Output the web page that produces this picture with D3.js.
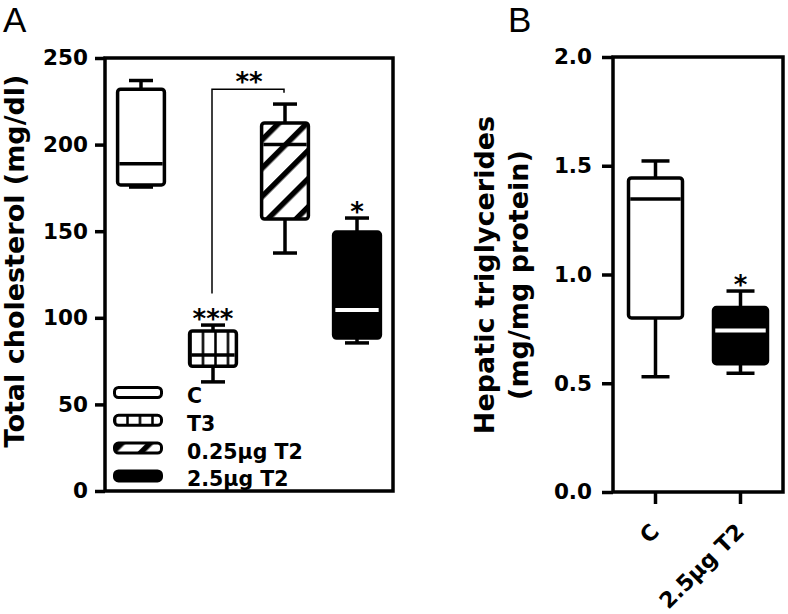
<!DOCTYPE html>
<html lang="en">
<head>
<meta charset="UTF-8">
<title>Cholesterol and triglycerides</title>
<script src="https://d3js.org/d3.v7.min.js"></script>
<style>
  body { margin: 0; background: #fff; }
  text { font-family: "DejaVu Sans", sans-serif; fill: #000; }
  .bold { font-weight: bold; }
</style>
</head>
<body>
<div id="chart"></div>
<script>
// ---- data, panel A (total cholesterol, mg/dl) ----
const groupsA = ["C", "T3", "0.25µg T2", "2.5µg T2"];
const cholMin = [175.5, 63, 137.4, 85.5];
const cholQ1  = [176.7, 72, 157, 88.3];
const cholMed = [189, 78.5, 200, 104.5];
const cholQ3  = [232, 92.4, 212.5, 149.5];
const cholMax = [237, 95.8, 223.4, 157.6];
const cholStars = ["", "***", "", "*"];
const cholTicks = [0, 50, 100, 150, 200, 250];
const bracketA = {from: "T3", to: "0.25µg T2", top: 232, low: 114, end: 230, label: "**"};

// ---- data, panel B (hepatic triglycerides, mg/mg protein) ----
const groupsB = ["C", "2.5µg T2"];
const tgMin = [0.53, 0.546];
const tgQ1  = [0.80, 0.59];
const tgMed = [1.347, 0.742];
const tgQ3  = [1.444, 0.848];
const tgMax = [1.522, 0.924];
const tgStars = ["", "*"];
const tgTicks = [0, 0.5, 1.0, 1.5, 2.0];

// fill per group
const fillOf = {"C": "white", "T3": "url(#vlines)", "0.25µg T2": "url(#hatch)", "2.5µg T2": "black"};

const W = 788, H = 614;
const sw = 3.5;

const svg = d3.select("#chart").append("svg").attr("width", W).attr("height", H);

/********************
 * patterns
 ********************/
const defs = svg.append("defs");
const hatch = defs.append("pattern").attr("id", "hatch")
  .attr("patternUnits", "userSpaceOnUse").attr("width", 20).attr("height", 20)
  .attr("patternTransform", "rotate(45)");
hatch.append("rect").attr("width", 20).attr("height", 20).attr("fill", "white");
hatch.append("rect").attr("width", 5.5).attr("height", 20).attr("fill", "black");

const vl = defs.append("pattern").attr("id", "vlines")
  .attr("patternUnits", "userSpaceOnUse").attr("x", -3.75).attr("width", 12.5).attr("height", 10);
vl.append("rect").attr("width", 12.5).attr("height", 10).attr("fill", "white");
vl.append("line").attr("x1", 6.25).attr("x2", 6.25).attr("y1", 0).attr("y2", 10)
  .attr("stroke", "black").attr("stroke-width", 2.5);

/********************
 * helpers
 ********************/
function frame(x, y) {
  const [x0, x1] = x.range(), [y0, y1] = y.range();
  svg.append("rect")
    .attr("x", x0).attr("y", y1).attr("width", x1 - x0).attr("height", y0 - y1)
    .attr("fill", "none").attr("stroke", "black").attr("stroke-width", sw);
}

function styleAxis(g) {
  g.select(".domain").remove();
  g.selectAll(".tick line").attr("stroke", "black").attr("stroke-width", sw);
  g.selectAll(".tick text").attr("class", "bold").style("font-size", "21.5px")
    .style("font-family", "'DejaVu Sans', sans-serif").attr("fill", "black");
}

function drawBoxes(x, y, groups, mins, q1s, meds, q3s, maxs, stars, capW) {
  const rows = groups.map((g, i) => ({g, min: mins[i], q1: q1s[i], med: meds[i], q3: q3s[i], max: maxs[i], star: stars[i]}));
  const bw = x.bandwidth();
  const box = svg.append("g").selectAll("g").data(rows).join("g")
    .attr("transform", d => "translate(" + (x(d.g) + bw / 2) + ",0)");

  // whiskers
  box.append("line").attr("x1", 0).attr("x2", 0)
    .attr("y1", d => y(d.max)).attr("y2", d => y(d.q3))
    .attr("stroke", "black").attr("stroke-width", sw);
  box.append("line").attr("x1", 0).attr("x2", 0)
    .attr("y1", d => y(d.q1)).attr("y2", d => y(d.min))
    .attr("stroke", "black").attr("stroke-width", sw);
  box.append("line").attr("x1", -capW / 2).attr("x2", capW / 2)
    .attr("y1", d => y(d.max)).attr("y2", d => y(d.max))
    .attr("stroke", "black").attr("stroke-width", sw);
  box.append("line").attr("x1", -capW / 2).attr("x2", capW / 2)
    .attr("y1", d => y(d.min)).attr("y2", d => y(d.min))
    .attr("stroke", "black").attr("stroke-width", sw);

  // box
  box.append("rect")
    .attr("x", -bw / 2).attr("width", bw)
    .attr("y", d => y(d.q3)).attr("height", d => y(d.q1) - y(d.q3))
    .attr("rx", 3)
    .attr("fill", d => fillOf[d.g]).attr("stroke", "black").attr("stroke-width", sw)
    .attr("stroke-linejoin", "round");

  // median
  box.append("line").attr("x1", -bw / 2 + sw / 2).attr("x2", bw / 2 - sw / 2)
    .attr("y1", d => y(d.med)).attr("y2", d => y(d.med))
    .attr("stroke", d => fillOf[d.g] === "black" ? "white" : "black")
    .attr("stroke-width", d => fillOf[d.g] === "black" ? 4 : sw);

  // significance stars
  box.filter(d => d.star).append("text").attr("class", "bold")
    .attr("text-anchor", "middle")
    .attr("y", d => y(d.max) + 3)
    .style("font-size", "26px")
    .text(d => d.star);
}

/********************
 * panel A
 ********************/
const xA = d3.scaleBand().domain(groupsA).range([105, 393]).paddingInner(0.35).paddingOuter(0.175);
const yA = d3.scaleLinear().domain([0, 250]).range([491, 58]);

frame(xA, yA);
svg.append("g").attr("transform", "translate(105,0)")
  .call(d3.axisLeft(yA).tickValues(cholTicks).tickSize(10).tickPadding(7).tickFormat(d3.format("d")))
  .call(styleAxis);

// bracket T3 vs 0.25
const bx1 = xA(bracketA.from) + xA.bandwidth() / 2 - 1;
const bx2 = xA(bracketA.to) + xA.bandwidth() / 2 - 1;
svg.append("path")
  .attr("d", "M" + bx1 + "," + yA(bracketA.low) + "V" + yA(bracketA.top) + "H" + bx2 + "V" + yA(bracketA.end))
  .attr("fill", "none").attr("stroke", "black").attr("stroke-width", 1.5);
svg.append("text").attr("class", "bold").attr("text-anchor", "middle")
  .attr("x", (bx1 + bx2) / 2 + 1).attr("y", yA(bracketA.top) + 2)
  .style("font-size", "26px").text(bracketA.label);

drawBoxes(xA, yA, groupsA, cholMin, cholQ1, cholMed, cholQ3, cholMax, cholStars, 24);

// legend
const legend = svg.append("g").selectAll("g").data(groupsA).join("g")
  .attr("transform", (d, i) => "translate(0," + (392.5 + i * 27.8) + ")");
legend.append("rect")
  .attr("x", 114.5).attr("y", -5).attr("width", 47).attr("height", 10).attr("rx", 4)
  .attr("fill", d => fillOf[d]).attr("stroke", "black").attr("stroke-width", 3);
legend.append("text").attr("class", "bold")
  .attr("x", 187).attr("y", 10.5)
  .style("font-size", "20.5px")
  .text(d => d);

svg.append("text").attr("class", "bold")
  .attr("transform", "translate(24,261) rotate(-90)")
  .attr("text-anchor", "middle").style("font-size", "27px")
  .text("Total cholesterol (mg/dl)");

svg.append("text").attr("x", 3).attr("y", 32)
  .style("font-family", "'Liberation Sans', Arial, sans-serif").style("font-size", "35px")
  .text("A");

/********************
 * panel B
 ********************/
const xB = d3.scaleBand().domain(groupsB).range([613, 783]).paddingInner(0.365).paddingOuter(0.1825);
const yB = d3.scaleLinear().domain([0, 2]).range([492, 57]);

frame(xB, yB);
svg.append("g").attr("transform", "translate(613,0)")
  .call(d3.axisLeft(yB).tickValues(tgTicks).tickSize(11).tickPadding(10).tickFormat(d3.format(".1f")))
  .call(styleAxis);

svg.append("g").attr("transform", "translate(0,492)")
  .call(d3.axisBottom(xB).tickSize(12))
  .call(styleAxis)
  .call(g => g.selectAll(".tick text")
    .attr("x", null).attr("y", null).attr("dy", null)
    .attr("text-anchor", "end")
    .style("font-size", "22px")
    .attr("transform", "translate(5,41) rotate(-45)"));

drawBoxes(xB, yB, groupsB, tgMin, tgQ1, tgMed, tgQ3, tgMax, tgStars, 28);

const titleB = svg.append("text").attr("class", "bold")
  .attr("text-anchor", "middle").style("font-size", "27px");
titleB.append("tspan")
  .attr("x", 0).attr("y", 0).text("Hepatic triglycerides");
titleB.append("tspan")
  .attr("x", 0).attr("y", 34).text("(mg/mg protein)");
titleB.attr("transform", "translate(494,275) rotate(-90)");

svg.append("text").attr("x", 508).attr("y", 32)
  .style("font-family", "'Liberation Sans', Arial, sans-serif").style("font-size", "35px")
  .text("B");
</script>
</body>
</html>
